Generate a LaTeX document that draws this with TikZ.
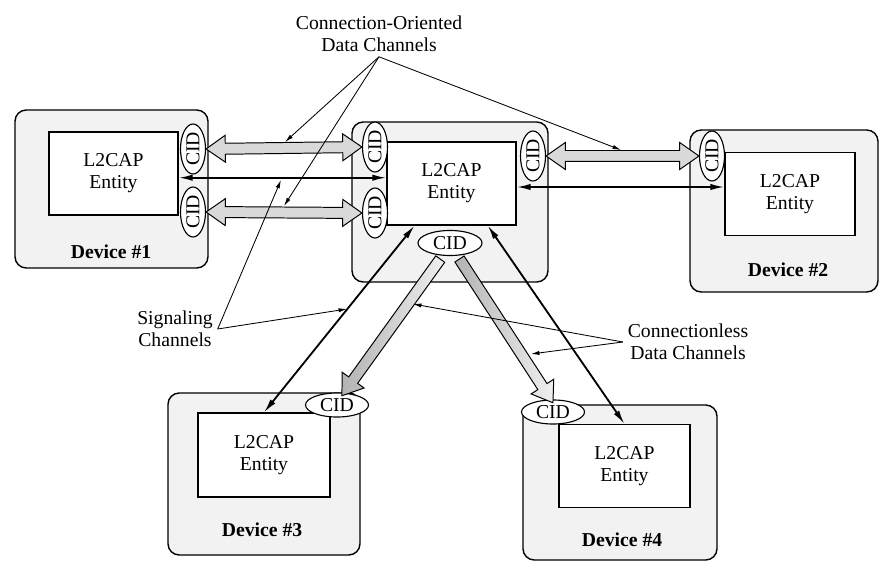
\documentclass[tikz,border=0pt]{standalone}
\usepackage{fontspec}
\setmainfont{Liberation Serif}
\usepackage{graphicx}
\usetikzlibrary{positioning,arrows.meta,shapes.geometric,shapes.arrows,calc}
\newlength{\pxl}
\setlength{\pxl}{0.025cm}

\begin{document}
\begin{tikzpicture}[x=\pxl,y=-\pxl,
font=\fontsize{14}{15.5}\selectfont,
device/.style={rectangle,rounded corners=8pt,draw,line width=1pt,fill=gray!10},
entity/.style={rectangle,draw,line width=0.8pt,fill=white,
minimum width=130\pxl,minimum height=83\pxl,align=center},
cid/.style={ellipse,draw,line width=0.8pt,fill=white,inner sep=0pt,
minimum width=63\pxl,minimum height=24\pxl},
vcid/.style={cid,minimum width=25\pxl,minimum height=50\pxl},
devlabel/.style={font=\fontsize{14}{15.5}\selectfont\bfseries},
fat/.style={double arrow,draw,line width=0.7pt,fill=gray!30,inner xsep=0pt,inner ysep=5\pxl,
double arrow head extend=8\pxl,double arrow tip angle=70,midway,sloped,allow upside down},
fatone/.style={single arrow,draw,line width=0.7pt,shading=axis,shading angle=90,
left color=gray!60,right color=gray!12,
inner xsep=0pt,inner ysep=5\pxl,single arrow head extend=8\pxl,single arrow tip angle=70,
midway,sloped,allow upside down},
sig/.style={{Latex[length=10pt,width=4.5pt]}-{Latex[length=10pt,width=4.5pt]},line width=1.3pt},
pointer/.style={-{Latex[length=6pt,width=3pt]},line width=0.6pt}
]
\useasboundingbox (0,0) rectangle (880,563);

% devices
\node[device,minimum width=193\pxl,minimum height=158\pxl] (d1) at (111.5,189) {};
\node[device,minimum width=196\pxl,minimum height=160\pxl] (dc) at (450,202) {};
\node[device,minimum width=188\pxl,minimum height=162\pxl] (d2) at (784,211) {};
\node[device,minimum width=192\pxl,minimum height=162\pxl] (d3) at (264,474) {};
\node[device,minimum width=194\pxl,minimum height=155\pxl] (d4) at (620,482.5) {};

\node[entity,minimum width=129\pxl] (in1) at (113.5,173.5) {L2CAP\\Entity};
\node[entity,minimum width=129\pxl] (inc) at (451.5,183.5) {L2CAP\\Entity};
\node[entity] (in2) at (790,194) {L2CAP\\Entity};
\node[entity,minimum width=132\pxl,minimum height=84\pxl] (in3) at (264,455) {L2CAP\\Entity};
\node[entity,minimum width=131\pxl] (in4) at (624.5,466) {L2CAP\\Entity};

\node[devlabel] (n1) at (111,252) {Device \#1};
\node[devlabel] (n2) at (788,270) {Device \#2};
\node[devlabel] (n3) at (262,530) {Device \#3};
\node[devlabel] (n4) at (622,540) {Device \#4};

% channel end points
\node[vcid] (c1a) at (193,149) {\rotatebox{90}{CID}};
\node[vcid] (c1b) at (193,212) {\rotatebox{90}{CID}};
\node[vcid] (cl1) at (375,147) {\rotatebox{90}{CID}};
\node[vcid] (cl2) at (375,213) {\rotatebox{90}{CID}};
\node[vcid] (cr) at (533,156) {\rotatebox{90}{CID}};
\node[vcid] (c2) at (712,156) {\rotatebox{90}{CID}};
\node[cid,minimum width=64\pxl,minimum height=25\pxl] (cb) at (450,243) {CID};
\node[cid] (c3) at (337,405) {CID};
\node[cid] (c4) at (553,412) {CID};

% data channels
\path let \p1=($(cl1.west)-(c1a.east)$), \n1={veclen(\x1,\y1)} in
  (c1a.east) -- node[fat,minimum height=\n1] (a1) {} (cl1.west);
\path let \p1=($(cl2.west)-(c1b.east)$), \n1={veclen(\x1,\y1)} in
  (c1b.east) -- node[fat,minimum height=\n1] (a2) {} (cl2.west);
\path let \p1=($(c2.west)-(cr.east)$), \n1={veclen(\x1,\y1)} in
  (cr.east) -- node[fat,minimum height=\n1] (a3) {} (c2.west);
\path let \p1=($(c3.60)-(cb.-120)$), \n1={veclen(\x1,\y1)} in
  (cb.-120) -- node[fatone,minimum height=\n1] (w3) {} (c3.60);
\path let \p1=($(c4.100)-(cb.-60)$), \n1={veclen(\x1,\y1)} in
  (cb.-60) -- node[fatone,minimum height=\n1] (w4) {} (c4.100);

% signaling channels
\draw[sig] ([yshift=-3pt]in1.east) -- ([yshift=-3pt]in1.east -| inc.west);
\draw[sig] ([yshift=-2.5pt]inc.east) -- ([yshift=-2.5pt]inc.east -| in2.west);
\draw[sig] ([xshift=20pt]inc.south west) -- (in3.north);
\draw[sig] ([xshift=-20.5pt]inc.south east) -- (in4.north);

% labels
\node[align=center] (colab) at (379,34) {Connection-Oriented\\Data Channels};
\node[align=center] (siglab) at (175,329) {Signaling\\Channels};
\node[align=center] (cllab) at (688,342) {Connectionless\\Data Channels};

\coordinate (p1) at (285,142);
\coordinate (p2) at (284,206);
\coordinate (p3) at (621,150);
\coordinate (p4) at (281,180);
\coordinate (p5) at (347,309);
\coordinate (p6) at (413,304);
\coordinate (p7) at (531,354);

\draw[pointer] (colab.south) -- (p1);
\draw[pointer] (colab.south) -- (p2);
\draw[pointer] (colab.south) -- (p3);
\draw[pointer] (siglab.east) -- (p4);
\draw[pointer] (siglab.east) -- (p5);
\draw[pointer] (cllab.west) -- (p6);
\draw[pointer] (cllab.west) -- (p7);
\end{tikzpicture}
\end{document}
